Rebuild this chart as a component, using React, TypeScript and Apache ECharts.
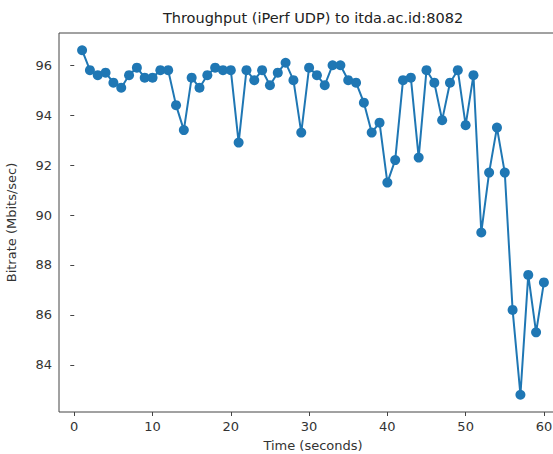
import React, { useEffect, useRef } from "react";
import * as echarts from "echarts";

const times: number[] = Array.from({ length: 60 }, (_, i) => i + 1);
const bitrates: number[] = [
  96.6, 95.8, 95.6, 95.7, 95.3, 95.1, 95.6, 95.9, 95.5, 95.5,
  95.8, 95.8, 94.4, 93.4, 95.5, 95.1, 95.6, 95.9, 95.8, 95.8,
  92.9, 95.8, 95.4, 95.8, 95.2, 95.7, 96.1, 95.4, 93.3, 95.9,
  95.6, 95.2, 96.0, 96.0, 95.4, 95.3, 94.5, 93.3, 93.7, 91.3,
  92.2, 95.4, 95.5, 92.3, 95.8, 95.3, 93.8, 95.3, 95.8, 93.6,
  95.6, 89.3, 91.7, 93.5, 91.7, 86.2, 82.8, 87.6, 85.3, 87.3,
];
const xTicks: number[] = [0, 10, 20, 30, 40, 50, 60];
const yTicks: number[] = [84, 86, 88, 90, 92, 94, 96];

const titleText = "Throughput (iPerf UDP) to itda.ac.id:8082";
const xName = "Time (seconds)";
const yName = "Bitrate (Mbits/sec)";

export default function App() {
  const ref = useRef<HTMLDivElement>(null);
  useEffect(() => {
    document.body.style.margin = "0";
    const chart = echarts.init(ref.current!, null, { renderer: "svg" });
    const font = "DejaVu Sans";
    const xmin = 1 - 0.05 * 59;
    const xmax = 60 + 0.05 * 59;
    const ylo = Math.min(...bitrates);
    const yhi = Math.max(...bitrates);
    const ypad = 0.05 * (yhi - ylo);
    chart.setOption({
      animation: false,
      backgroundColor: "#ffffff",
      graphic: [
        {
          type: "text",
          x: 313,
          y: 10,
          style: {
            text: titleText,
            font: `14.5px "${font}"`,
            fill: "#222",
            textAlign: "center",
            textVerticalAlign: "top",
          },
        },
      ],
      grid: {
        left: 59,
        top: 33,
        width: 508,
        height: 379,
        outerBoundsMode: "none",
        containLabel: false,
        show: true,
        borderColor: "#444",
        borderWidth: 1,
        backgroundColor: "transparent",
      },
      xAxis: {
        type: "value",
        min: xmin,
        max: xmax,
        name: xName,
        nameLocation: "middle",
        nameGap: 27,
        nameTextStyle: { fontFamily: font, fontSize: 13, color: "#333" },
        axisLine: { show: false },
        splitLine: { show: false },
        axisTick: {
          show: true,
          inside: false,
          length: 4,
          lineStyle: { color: "#444" },
          customValues: xTicks,
        },
        axisLabel: {
          fontFamily: font,
          fontSize: 13,
          color: "#333",
          margin: 8,
          customValues: xTicks,
          formatter: (v: number) => String(v),
        },
      },
      yAxis: {
        type: "value",
        min: ylo - ypad,
        max: yhi + ypad,
        name: yName,
        nameLocation: "middle",
        nameGap: 41,
        nameRotate: 90,
        nameTextStyle: { fontFamily: font, fontSize: 13, color: "#333" },
        axisLine: { show: false },
        splitLine: { show: false },
        axisTick: {
          show: true,
          inside: false,
          length: 4,
          lineStyle: { color: "#444" },
          customValues: yTicks,
        },
        axisLabel: {
          fontFamily: font,
          fontSize: 13,
          color: "#333",
          margin: 7,
          customValues: yTicks,
          formatter: (v: number) => String(v),
        },
      },
      series: [
        {
          type: "line",
          data: times.map((t, i) => [t, bitrates[i]]),
          symbol: "circle",
          symbolSize: 10,
          showSymbol: true,
          lineStyle: { color: "#1f77b4", width: 2 },
          itemStyle: { color: "#1f77b4" },
        },
      ],
    });
    return () => chart.dispose();
  }, []);
  return (
    <div
      style={{
        position: "absolute",
        left: 0,
        top: 0,
        width: 553,
        height: 454,
        overflow: "hidden",
      }}
    >
      <div ref={ref} style={{ width: 600, height: 454 }} />
    </div>
  );
}
